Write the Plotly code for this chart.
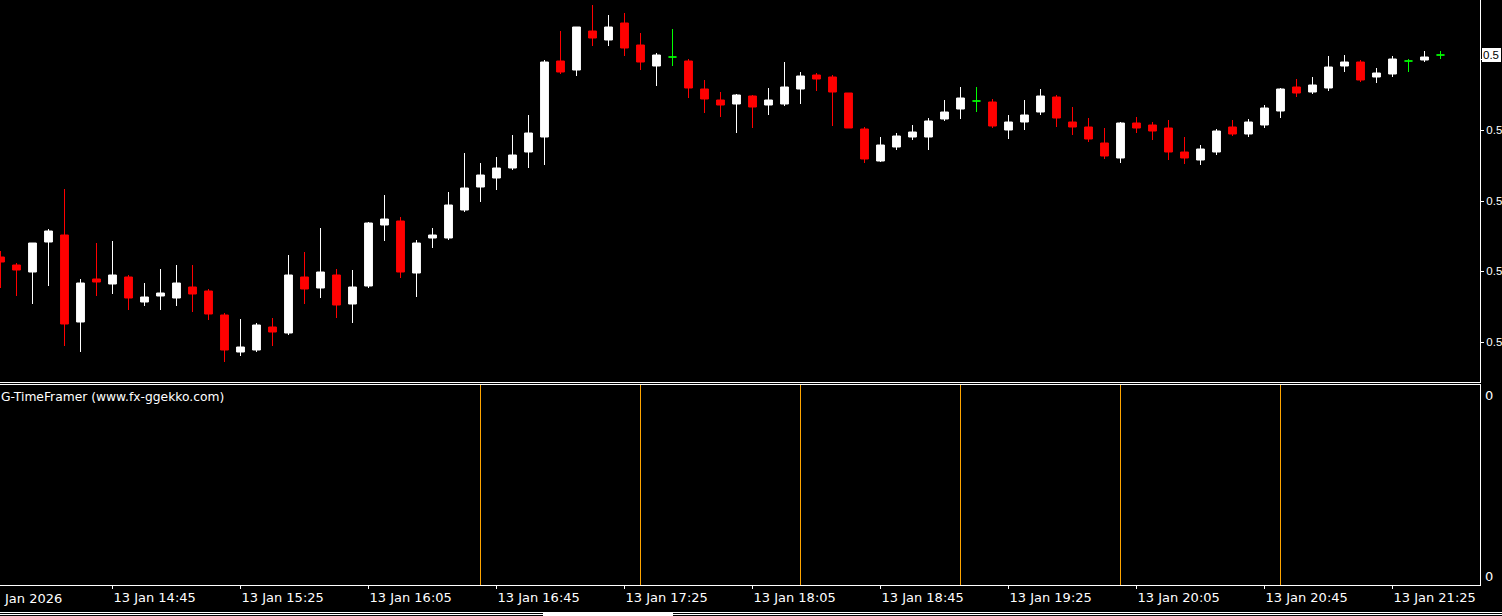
import numpy as np
import pandas as pd
import plotly.graph_objects as go

# ---------------- data (M5 bars, 13 Jan 2026) ----------------
bar_times = pd.date_range("2026-01-13 14:10", periods=91, freq="5min")

open_ = [
    0.57485, 0.57477, 0.57470, 0.57500, 0.57507, 0.57420, 0.57463, 0.57458, 0.57465, 0.57440,
    0.57446, 0.57444, 0.57455, 0.57451, 0.57427, 0.57390, 0.57392, 0.57415, 0.57409, 0.57465,
    0.57454, 0.57467, 0.57438, 0.57456, 0.57517, 0.57521, 0.57469, 0.57504, 0.57504, 0.57532,
    0.57555, 0.57564, 0.57574, 0.57590, 0.57605, 0.57681, 0.57672, 0.57711, 0.57702, 0.57719,
    0.57697, 0.57676, 0.57685, 0.57681, 0.57653, 0.57642, 0.57638, 0.57646, 0.57637, 0.57638,
    0.57653, 0.57667, 0.57665, 0.57649, 0.57613, 0.57581, 0.57595, 0.57605, 0.57605, 0.57623,
    0.57633, 0.57641, 0.57640, 0.57612, 0.57620, 0.57630, 0.57645, 0.57620, 0.57615, 0.57599,
    0.57584, 0.57619, 0.57617, 0.57614, 0.57590, 0.57582, 0.57590, 0.57615, 0.57608, 0.57617,
    0.57631, 0.57655, 0.57650, 0.57654, 0.57676, 0.57680, 0.57665, 0.57668, 0.57681, 0.57682,
    0.57687,
]
high = [
    0.57491, 0.57479, 0.57499, 0.57513, 0.57553, 0.57463, 0.57499, 0.57501, 0.57467, 0.57459,
    0.57473, 0.57477, 0.57477, 0.57453, 0.57429, 0.57423, 0.57419, 0.57424, 0.57487, 0.57490,
    0.57514, 0.57473, 0.57472, 0.57520, 0.57547, 0.57525, 0.57502, 0.57514, 0.57550, 0.57589,
    0.57579, 0.57585, 0.57607, 0.57627, 0.57682, 0.57711, 0.57715, 0.57737, 0.57727, 0.57729,
    0.57709, 0.57689, 0.57713, 0.57683, 0.57662, 0.57650, 0.57648, 0.57647, 0.57654, 0.57680,
    0.57670, 0.57669, 0.57667, 0.57649, 0.57615, 0.57605, 0.57609, 0.57617, 0.57624, 0.57642,
    0.57655, 0.57655, 0.57643, 0.57627, 0.57642, 0.57653, 0.57647, 0.57635, 0.57624, 0.57614,
    0.57620, 0.57625, 0.57620, 0.57622, 0.57605, 0.57597, 0.57613, 0.57622, 0.57623, 0.57637,
    0.57654, 0.57663, 0.57665, 0.57686, 0.57687, 0.57682, 0.57674, 0.57686, 0.57683, 0.57691,
    0.57691,
]
low = [
    0.57454, 0.57446, 0.57438, 0.57456, 0.57396, 0.57390, 0.57446, 0.57448, 0.57432, 0.57436,
    0.57432, 0.57436, 0.57430, 0.57422, 0.57380, 0.57386, 0.57390, 0.57396, 0.57407, 0.57438,
    0.57444, 0.57424, 0.57419, 0.57454, 0.57501, 0.57464, 0.57445, 0.57494, 0.57502, 0.57530,
    0.57540, 0.57552, 0.57572, 0.57574, 0.57577, 0.57668, 0.57666, 0.57696, 0.57696, 0.57686,
    0.57672, 0.57656, 0.57676, 0.57644, 0.57629, 0.57625, 0.57609, 0.57614, 0.57627, 0.57636,
    0.57638, 0.57651, 0.57616, 0.57614, 0.57579, 0.57580, 0.57592, 0.57602, 0.57592, 0.57621,
    0.57623, 0.57630, 0.57614, 0.57603, 0.57612, 0.57627, 0.57615, 0.57607, 0.57600, 0.57583,
    0.57579, 0.57609, 0.57602, 0.57582, 0.57578, 0.57577, 0.57587, 0.57606, 0.57605, 0.57614,
    0.57624, 0.57645, 0.57648, 0.57651, 0.57670, 0.57660, 0.57659, 0.57665, 0.57670, 0.57680,
    0.57683,
]
close = [
    0.57480, 0.57472, 0.57499, 0.57511, 0.57418, 0.57459, 0.57460, 0.57467, 0.57444, 0.57445,
    0.57449, 0.57459, 0.57448, 0.57428, 0.57392, 0.57395, 0.57417, 0.57410, 0.57467, 0.57453,
    0.57470, 0.57437, 0.57455, 0.57519, 0.57523, 0.57470, 0.57499, 0.57507, 0.57537, 0.57554,
    0.57567, 0.57574, 0.57587, 0.57609, 0.57680, 0.57670, 0.57715, 0.57704, 0.57715, 0.57694,
    0.57680, 0.57687, 0.57685, 0.57654, 0.57643, 0.57637, 0.57647, 0.57635, 0.57642, 0.57655,
    0.57666, 0.57663, 0.57650, 0.57614, 0.57583, 0.57597, 0.57606, 0.57610, 0.57621, 0.57630,
    0.57644, 0.57641, 0.57616, 0.57620, 0.57627, 0.57646, 0.57624, 0.57615, 0.57603, 0.57586,
    0.57619, 0.57614, 0.57611, 0.57590, 0.57584, 0.57593, 0.57611, 0.57608, 0.57620, 0.57634,
    0.57653, 0.57649, 0.57657, 0.57675, 0.57680, 0.57662, 0.57669, 0.57683, 0.57681, 0.57685,
    0.57687,
]

# price-scale ticks (labels are truncated to "0.5" by the window edge in the original;
# the top one is hidden behind the bid label)
price_ticks = [0.57400, 0.57471, 0.57541, 0.57612, 0.57683]
price_tick_labels = ["0.5", "0.5", "0.5", "0.5", ""]
bid_label = "0.5"
time_ticks = ["2026-01-13 14:45", "2026-01-13 15:25", "2026-01-13 16:05", "2026-01-13 16:45",
              "2026-01-13 17:25", "2026-01-13 18:05", "2026-01-13 18:45", "2026-01-13 19:25",
              "2026-01-13 20:05", "2026-01-13 20:45", "2026-01-13 21:25"]
time_tick_labels = ["13 Jan 14:45", "13 Jan 15:25", "13 Jan 16:05", "13 Jan 16:45",
                    "13 Jan 17:25", "13 Jan 18:05", "13 Jan 18:45", "13 Jan 19:25",
                    "13 Jan 20:05", "13 Jan 20:45", "13 Jan 21:25"]
first_date_label = "Jan 2026"
timeframe_marks = ["2026-01-13 16:40", "2026-01-13 17:30", "2026-01-13 18:20",
                   "2026-01-13 19:10", "2026-01-13 20:00", "2026-01-13 20:50"]
indicator_name = "G-TimeFramer (www.fx-ggekko.com)"
indicator_levels = ["0", "0"]

# ---------------- figure ----------------
W, H = 1502, 616
FONT = dict(family="DejaVu Sans", size=13, color="#FFFFFF")
SMALL = dict(family="Liberation Sans", size=11.5, color="#FFFFFF")
x_right = 1480 / W
main_dom = [1 - 382 / H, 1]
ind_dom = [1 - 585 / H, 1 - 385 / H]
x_range = ["2026-01-13 14:09:50.625", "2026-01-13 21:52:20.625"]

df = pd.DataFrame(dict(t=bar_times, o=open_, h=high, l=low, c=close))
is_doji = np.isclose(df.c, df.o)
bull = df[(df.c > df.o) & ~is_doji]
bear = df[(df.c < df.o) & ~is_doji]
doji = df[is_doji]


def candles(d, up, down):
    return go.Candlestick(
        x=d.t, open=d.o, high=d.h, low=d.l, close=d.c,
        increasing=dict(line=dict(color=up, width=1), fillcolor=up),
        decreasing=dict(line=dict(color=down, width=1), fillcolor=down),
        whiskerwidth=0, xaxis="x", yaxis="y", showlegend=False, hoverinfo="skip",
    )


fig = go.Figure()
fig.add_trace(candles(bull, "#FFFFFF", "#FFFFFF"))
fig.add_trace(candles(bear, "#FF0000", "#FF0000"))
fig.add_trace(candles(doji, "#00FF00", "#00FF00"))

mx, my = [], []
for t in timeframe_marks:
    mx += [t, t, None]
    my += [0, 1, None]
fig.add_trace(go.Scatter(x=mx, y=my, mode="lines", line=dict(color="#FFA500", width=1),
                         xaxis="x2", yaxis="y2", showlegend=False, hoverinfo="skip"))

fig.update_layout(
    width=W, height=H, margin=dict(l=0, r=0, t=0, b=0, autoexpand=False),
    paper_bgcolor="#000000", plot_bgcolor="#000000",
    font=FONT, hovermode=False, showlegend=False,
    xaxis=dict(domain=[0, x_right], anchor="y", type="date", range=x_range,
               showgrid=False, zeroline=False, showticklabels=False, ticks="",
               showline=True, linecolor="#FFFFFF", linewidth=1, automargin=False,
               rangeslider=dict(visible=False), fixedrange=True),
    yaxis=dict(domain=main_dom, anchor="x", side="right", range=[0.57360, 0.57742],
               tickvals=price_ticks, ticktext=price_tick_labels, ticks="outside", ticklen=3,
               tickcolor="#FFFFFF", showline=True, linecolor="#FFFFFF", linewidth=1,
               showgrid=False, zeroline=False, tickfont=SMALL, fixedrange=True,
               automargin=False),
    xaxis2=dict(domain=[0, x_right], anchor="y2", type="date", range=x_range,
                tickvals=time_ticks, ticktext=time_tick_labels, ticks="outside", ticklen=3,
                tickcolor="#FFFFFF", ticklabelposition="outside right",
                showline=True, mirror=True, linecolor="#FFFFFF", linewidth=1,
                showgrid=False, zeroline=False, tickfont=FONT, automargin=False,
                rangeslider=dict(visible=False), fixedrange=True),
    yaxis2=dict(domain=ind_dom, anchor="x2", side="right", range=[0, 1],
                showticklabels=False, ticks="", showline=True, linecolor="#FFFFFF",
                linewidth=1, showgrid=False, zeroline=False, fixedrange=True,
                automargin=False),
)

annotations = [
    dict(text=first_date_label, xref="paper", yref="paper", x=2 / W, y=1 - 598 / H,
         xanchor="left", yanchor="middle", showarrow=False, font=FONT),
    dict(text=indicator_name, xref="paper", yref="paper", x=-1 / W, y=1 - 397 / H,
         xanchor="left", yanchor="middle", showarrow=False,
         font=dict(family="DejaVu Sans", size=12.3, color="#FFFFFF")),
    dict(text=indicator_levels[0], xref="paper", yref="paper", x=1483 / W, y=1 - 395 / H,
         xanchor="left", yanchor="middle", showarrow=False, font=FONT),
    dict(text=indicator_levels[1], xref="paper", yref="paper", x=1483 / W, y=1 - 576 / H,
         xanchor="left", yanchor="middle", showarrow=False, font=FONT),
    dict(text=bid_label, xref="paper", yref="y", x=1482 / W, y=close[-1],
         xanchor="left", yanchor="middle", showarrow=False, width=17, height=12,
         align="left", font=dict(family="Liberation Sans", size=11.5, color="#000000"),
         bgcolor="#FFFFFF", bordercolor="#FFFFFF", borderwidth=1, borderpad=0),
]
fig.update_layout(annotations=annotations)

shapes = [
    dict(type="line", xref="paper", yref="paper", x0=0, x1=1, y0=1 - 612.5 / H, y1=1 - 612.5 / H,
         line=dict(color="#FFFFFF", width=1)),
    dict(type="line", xref="paper", yref="paper", x0=0, x1=1, y0=1 - 614.5 / H, y1=1 - 614.5 / H,
         line=dict(color="#FFFFFF", width=1)),
    dict(type="rect", xref="paper", yref="paper", x0=543 / W, x1=673 / W, y0=0, y1=1 - 613 / H,
         line=dict(width=0), fillcolor="#FFFFFF"),
]
fig.update_layout(shapes=shapes)

fig.write_html("out.html", config=dict(displayModeBar=False, staticPlot=True),
               post_script="document.body.style.margin='0';document.body.style.overflow='hidden';")
